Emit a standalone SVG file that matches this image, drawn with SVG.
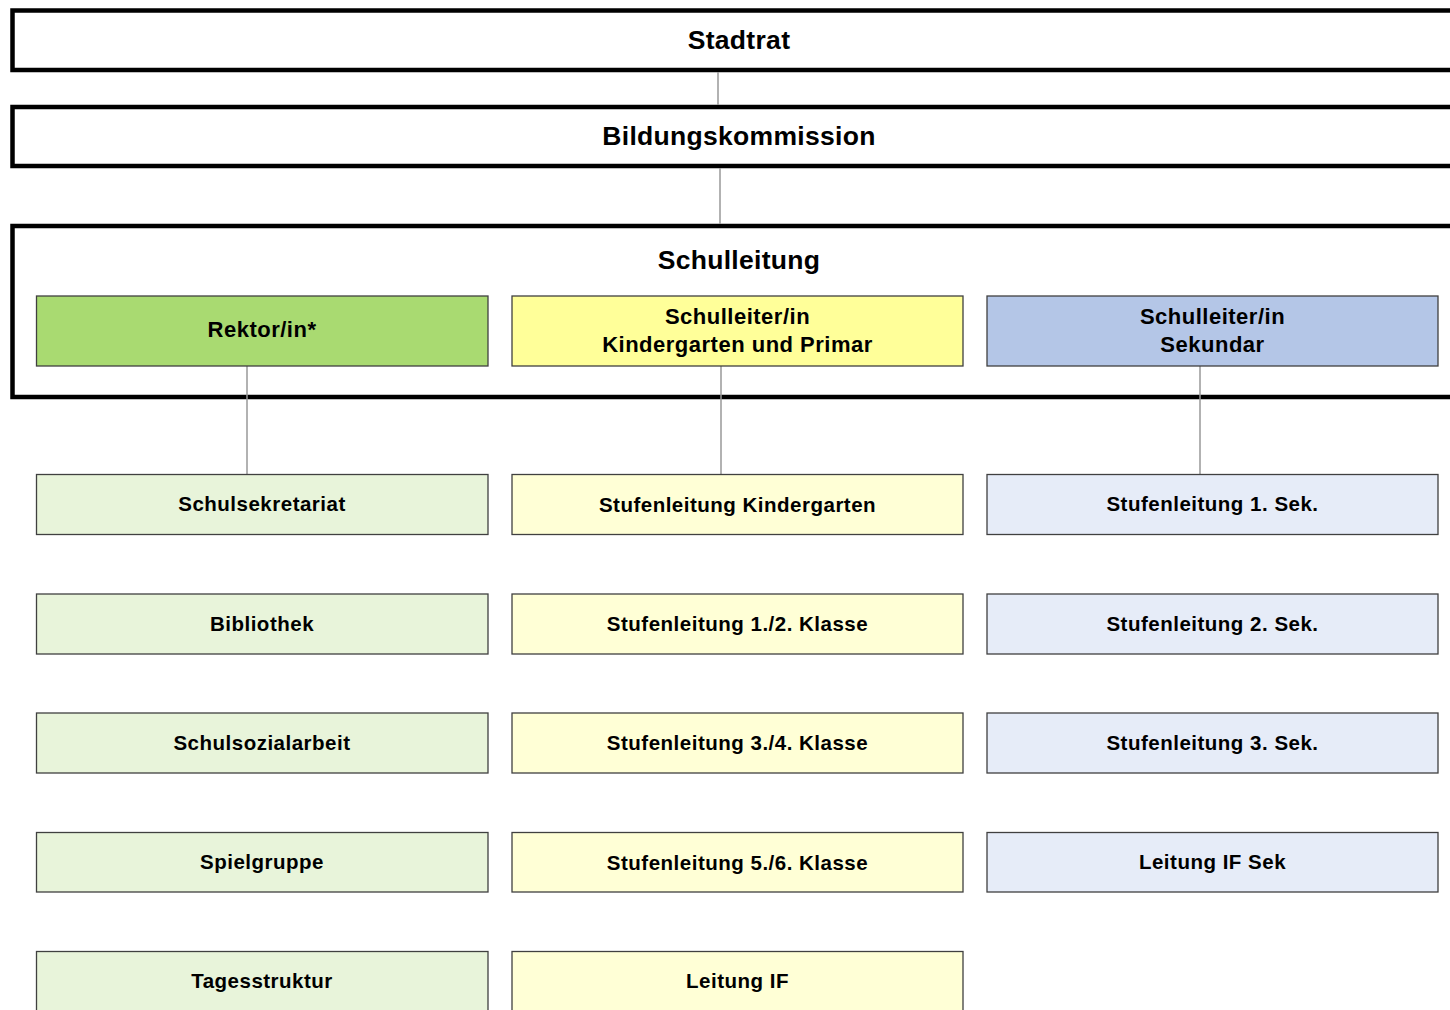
<svg xmlns="http://www.w3.org/2000/svg" width="1450" height="1010" viewBox="0 0 1450 1010">
<style>
.outer{fill:#ffffff;stroke:#000000;stroke-width:4.5}
.box{stroke:#404040;stroke-width:1.3}
.g1{fill:#a9da71}.y1{fill:#ffff99}.b1{fill:#b4c6e7}
.g2{fill:#e8f4da}.y2{fill:#ffffd6}.b2{fill:#e6ecf8}
.h{font-family:"Liberation Sans",Arial,sans-serif;font-weight:bold;font-size:26.5px;fill:#000;text-anchor:middle;letter-spacing:0.3px}
.m{font-family:"Liberation Sans",Arial,sans-serif;font-weight:bold;font-size:22px;fill:#000;text-anchor:middle;letter-spacing:0.5px}
.t{font-family:"Liberation Sans",Arial,sans-serif;font-weight:bold;font-size:20.5px;fill:#000;text-anchor:middle;letter-spacing:0.5px}
.c{stroke:#999999;stroke-width:1.5;fill:none}
</style>
<rect width="1450" height="1010" fill="#ffffff"/>
<g id="stadtrat"><rect class="outer" x="12.5" y="10.5" width="1460" height="59.5"/><text class="h" x="739" y="49">Stadtrat</text></g>
<g id="bildungskommission"><rect class="outer" x="12.5" y="107" width="1460" height="59"/><text class="h" x="739" y="145">Bildungskommission</text></g>
<g id="schulleitung"><rect class="outer" x="12.5" y="226" width="1460" height="171"/><text class="h" x="739" y="269">Schulleitung</text></g>
<g id="connectors">
<line class="c" x1="718" y1="72" x2="718" y2="105"/>
<line class="c" x1="720" y1="168" x2="720" y2="224"/>
<line class="c" x1="247" y1="366" x2="247" y2="474"/>
<line class="c" x1="721" y1="366" x2="721" y2="474"/>
<line class="c" x1="1200" y1="366" x2="1200" y2="474"/>
</g>
<g id="rektor"><rect class="box g1" x="36.5" y="296" width="451.5" height="70"/><text class="m" x="262" y="337">Rektor/in*</text></g>
<g id="sl-kp"><rect class="box y1" x="512" y="296" width="451" height="70"/><text class="m" x="737.5" y="324">Schulleiter/in</text><text class="m" x="737.5" y="352">Kindergarten und Primar</text></g>
<g id="sl-sek"><rect class="box b1" x="987" y="296" width="451" height="70"/><text class="m" x="1212.5" y="324">Schulleiter/in</text><text class="m" x="1212.5" y="352">Sekundar</text></g>
<g id="schulsekretariat"><rect class="box g2" x="36.5" y="474.5" width="451.5" height="60"/><text class="t" x="262" y="511">Schulsekretariat</text></g>
<g id="bibliothek"><rect class="box g2" x="36.5" y="594" width="451.5" height="60"/><text class="t" x="262" y="630.5">Bibliothek</text></g>
<g id="schulsozialarbeit"><rect class="box g2" x="36.5" y="713" width="451.5" height="60"/><text class="t" x="262" y="750">Schulsozialarbeit</text></g>
<g id="spielgruppe"><rect class="box g2" x="36.5" y="832.5" width="451.5" height="59.5"/><text class="t" x="262" y="869">Spielgruppe</text></g>
<g id="tagesstruktur"><rect class="box g2" x="36.5" y="951.5" width="451.5" height="70"/><text class="t" x="262" y="988">Tagesstruktur</text></g>
<g id="stl-kg"><rect class="box y2" x="512" y="474.5" width="451" height="60"/><text class="t" x="737.5" y="512">Stufenleitung Kindergarten</text></g>
<g id="stl-12"><rect class="box y2" x="512" y="594" width="451" height="60"/><text class="t" x="737.5" y="631">Stufenleitung 1./2. Klasse</text></g>
<g id="stl-34"><rect class="box y2" x="512" y="713" width="451" height="60"/><text class="t" x="737.5" y="750">Stufenleitung 3./4. Klasse</text></g>
<g id="stl-56"><rect class="box y2" x="512" y="832.5" width="451" height="59.5"/><text class="t" x="737.5" y="869.5">Stufenleitung 5./6. Klasse</text></g>
<g id="leitung-if"><rect class="box y2" x="512" y="951.5" width="451" height="70"/><text class="t" x="737.5" y="988">Leitung IF</text></g>
<g id="stl-1sek"><rect class="box b2" x="987" y="474.5" width="451" height="60"/><text class="t" x="1212.5" y="511">Stufenleitung 1. Sek.</text></g>
<g id="stl-2sek"><rect class="box b2" x="987" y="594" width="451" height="60"/><text class="t" x="1212.5" y="630.5">Stufenleitung 2. Sek.</text></g>
<g id="stl-3sek"><rect class="box b2" x="987" y="713" width="451" height="60"/><text class="t" x="1212.5" y="750">Stufenleitung 3. Sek.</text></g>
<g id="leitung-if-sek"><rect class="box b2" x="987" y="832.5" width="451" height="59.5"/><text class="t" x="1212.5" y="869">Leitung IF Sek</text></g>
</svg>
